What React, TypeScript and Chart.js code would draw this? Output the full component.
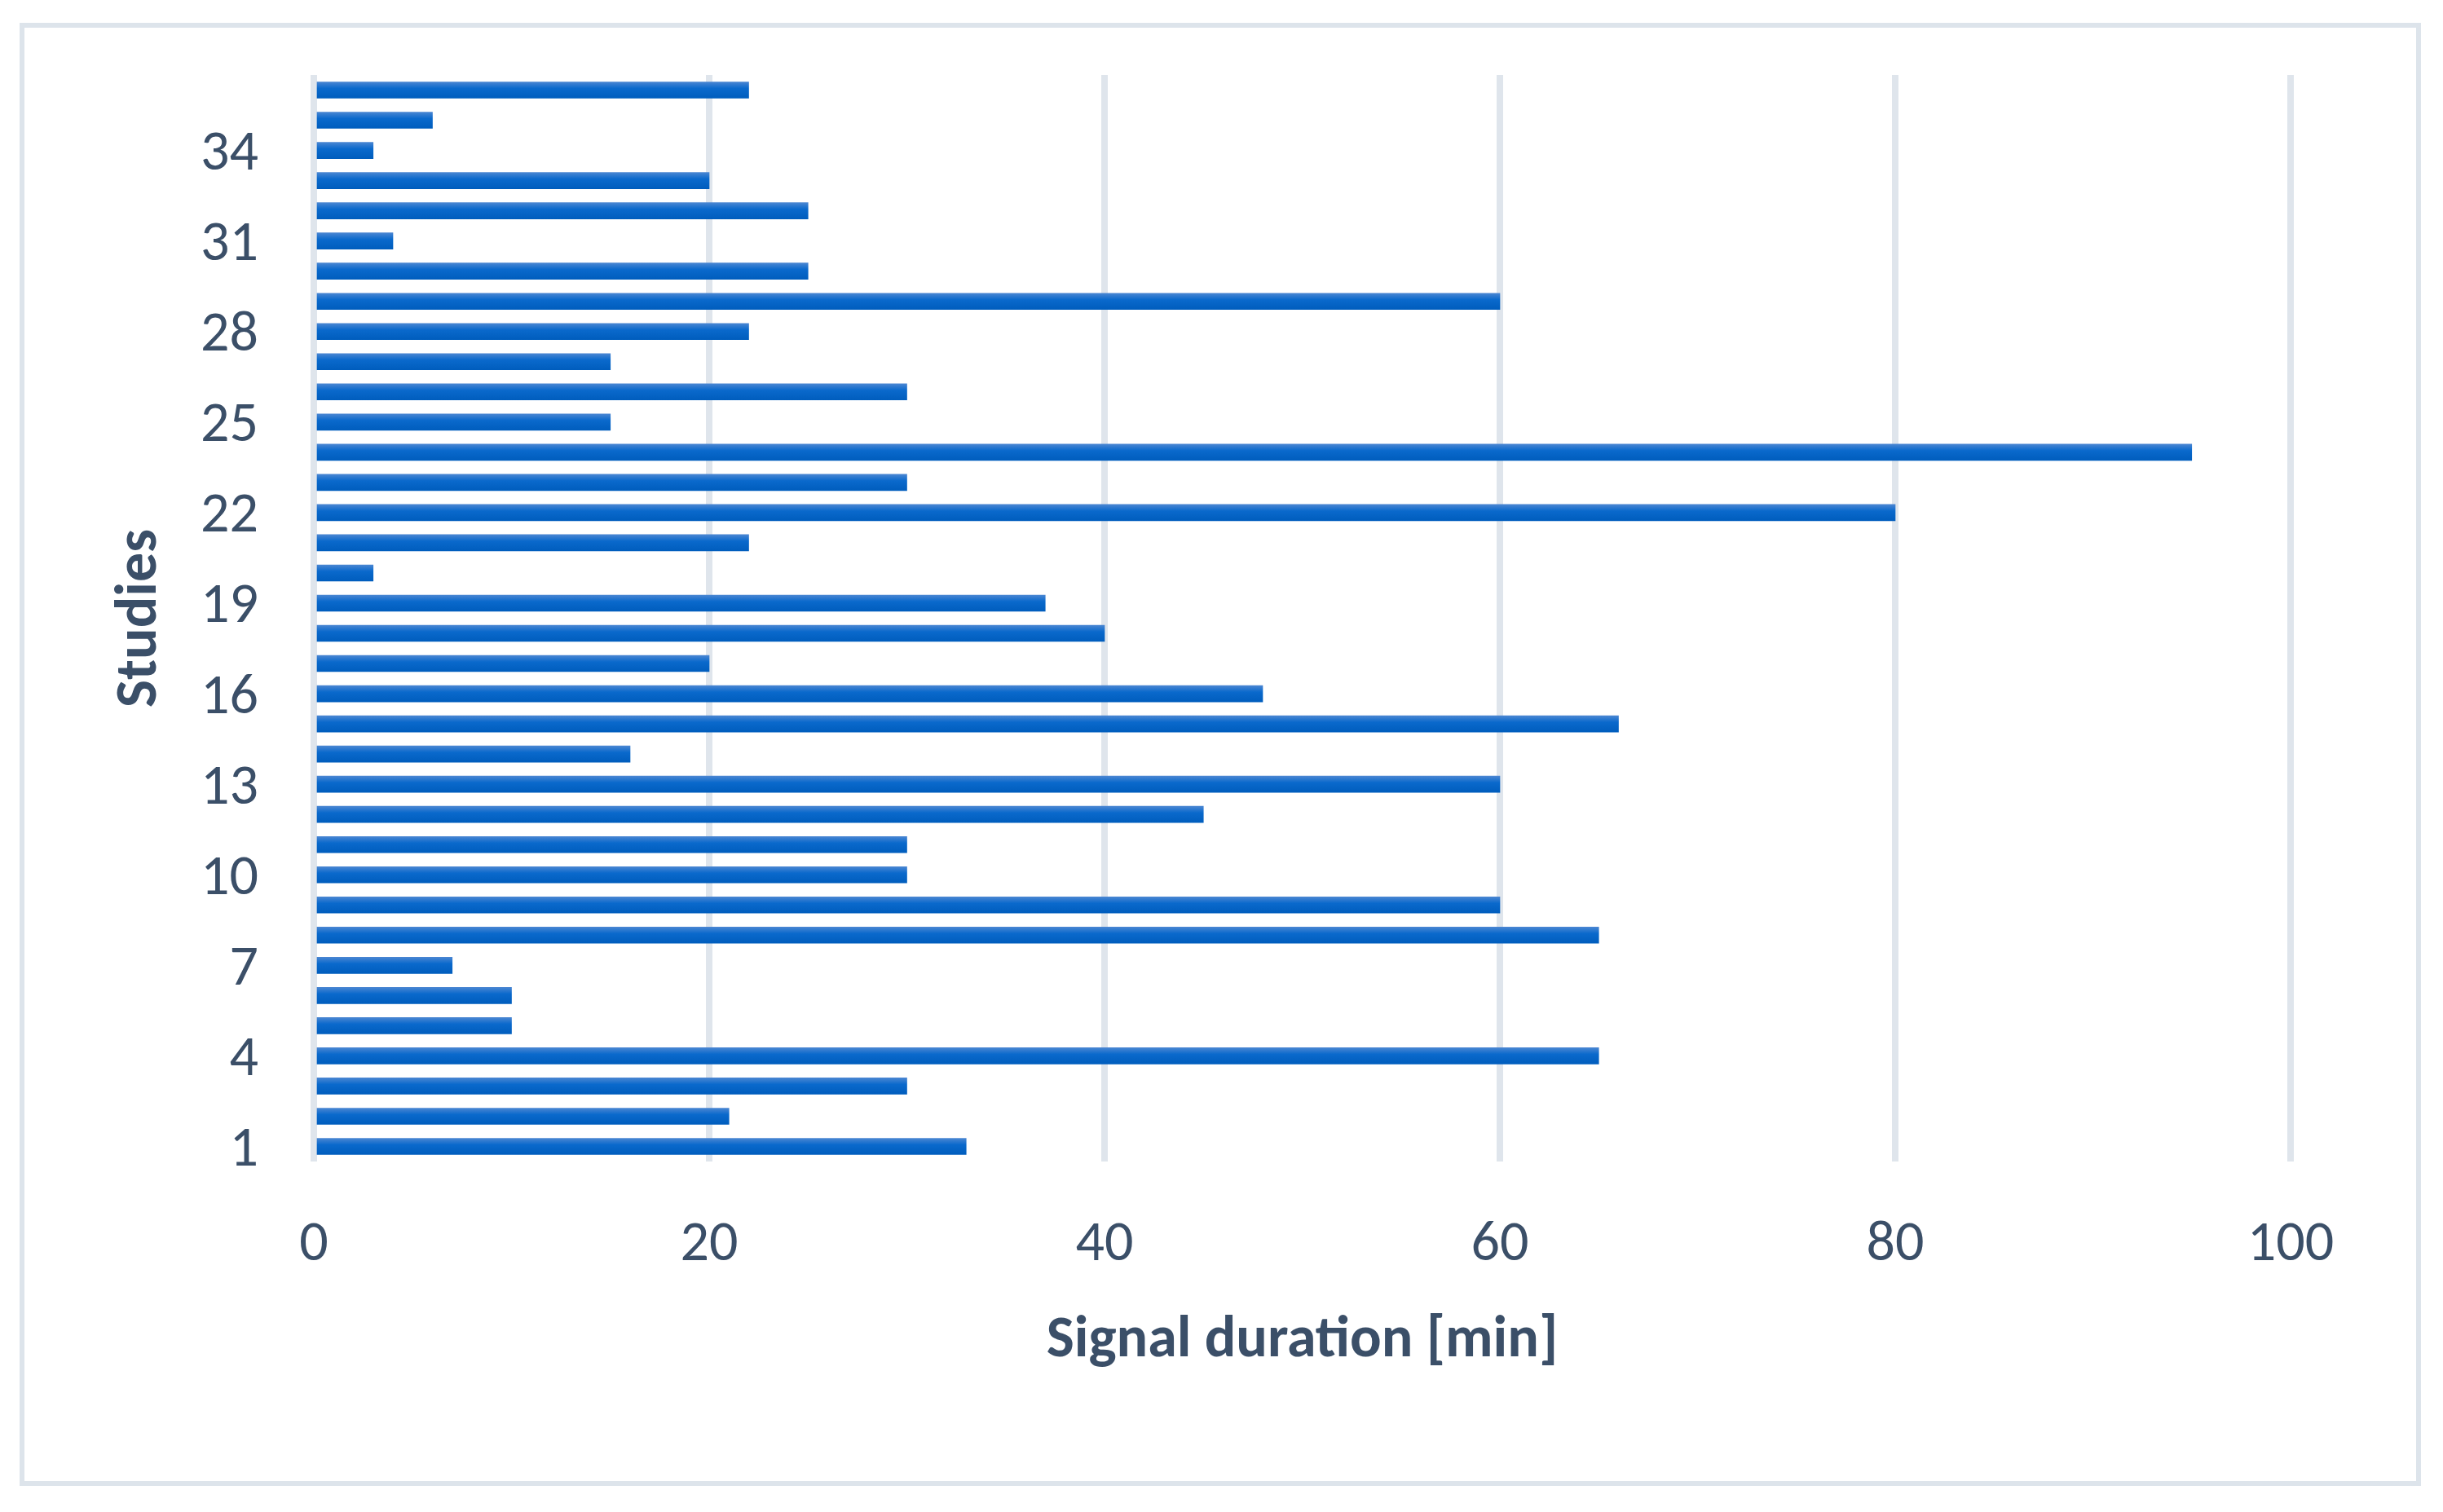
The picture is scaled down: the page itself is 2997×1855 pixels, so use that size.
import { useEffect, useRef } from 'react'
import Chart from 'chart.js/auto'

// Studies 1..36 (bottom → top) and their signal duration in minutes
const STUDIES = [
  '1', '2', '3', '4', '5', '6', '7', '8', '9', '10', '11', '12',
  '13', '14', '15', '16', '17', '18', '19', '20', '21', '22', '23', '24',
  '25', '26', '27', '28', '29', '30', '31', '32', '33', '34', '35', '36',
]
const DURATION_MIN = [
  33, 21, 30, 65, 10, 10, 7, 65, 60, 30, 30, 45,
  60, 16, 66, 48, 20, 40, 37, 3, 22, 80, 30, 95,
  15, 30, 15, 22, 60, 25, 4, 25, 20, 3, 6, 22,
]
// only every third study gets a tick label
const Y_TICKS_SHOWN = ['1', '4', '7', '10', '13', '16', '19', '22', '25', '28', '31', '34']
const X_MIN = 0
const X_MAX = 100
const X_STEP = 20

const TEXT = '#3b4f68'
const GRID = '#dfe5ec'
const FONT = 'Carlito, Calibri, Lato, sans-serif'
const BAR_H = 20

export default function App() {
  const canvasRef = useRef<HTMLCanvasElement>(null)

  useEffect(() => {
    document.body.style.margin = '0'
    if (!canvasRef.current) return

    // vertical gradient per bar (light top → deep blue bottom)
    const barFill = (c: any) => {
      const y = c.chart.scales?.y
      if (!y || c.dataIndex == null) return '#0a69cc'
      const yc = y.getPixelForValue(c.dataIndex)
      if (!Number.isFinite(yc)) return '#0a69cc'
      const g = c.chart.ctx.createLinearGradient(0, yc - BAR_H / 2, 0, yc + BAR_H / 2)
      g.addColorStop(0, '#4a86d2')
      g.addColorStop(0.4, '#0a69cc')
      g.addColorStop(1, '#005dbd')
      return g
    }

    const chart = new Chart(canvasRef.current, {
      type: 'bar',
      data: {
        labels: STUDIES,
        datasets: [{
          label: 'Signal duration',
          data: DURATION_MIN,
          backgroundColor: barFill,
          borderWidth: 0,
          barThickness: BAR_H,
        }],
      },
      options: {
        indexAxis: 'y',
        responsive: true, maintainAspectRatio: false, animation: false,
        layout: { padding: { top: 92, right: 187, left: 0, bottom: 0 } },
        plugins: { legend: { display: false }, tooltip: { enabled: false } },
        scales: {
          x: {
            min: X_MIN, max: X_MAX,
            grid: { color: GRID, lineWidth: 8, drawTicks: false },
            border: { display: false },
            ticks: { stepSize: X_STEP, color: TEXT, padding: 61, font: { family: FONT, size: 70 } },
            title: {
              display: true, text: 'Signal duration [min]', color: TEXT,
              font: { family: FONT, size: 72, weight: 'bold' }, padding: { top: 0, bottom: 166 },
            },
            afterFit: (s: any) => { s.height = 430; s.paddingLeft = 0; s.paddingRight = 0 },
          },
          y: {
            reverse: true,
            grid: { display: false },
            border: { display: false },
            ticks: {
              autoSkip: false, color: TEXT, padding: 60, labelOffset: 6, font: { family: FONT, size: 70 },
              callback: (_v: any, i: number) => (Y_TICKS_SHOWN.includes(STUDIES[i]) ? STUDIES[i] : ''),
            },
            title: {
              display: true, text: 'Studies', color: TEXT,
              font: { family: FONT, size: 72, weight: 'bold' }, padding: { top: 130, bottom: 0 },
            },
            afterFit: (s: any) => { s.width = 385; s.paddingTop = 0; s.paddingBottom = 0 },
          },
        },
      } as any,
    })

    return () => chart.destroy()
  }, [])

  return (
    <div style={{ position: 'relative', width: 2997, height: 1855, background: '#fff' }}>
      <div style={{
        position: 'absolute', left: 24, top: 28, width: 2946, height: 1795,
        border: '6px solid #dde4eb', boxSizing: 'border-box',
      }} />
      <canvas ref={canvasRef} style={{ position: 'absolute', left: 0, top: 0 }} />
    </div>
  )
}
